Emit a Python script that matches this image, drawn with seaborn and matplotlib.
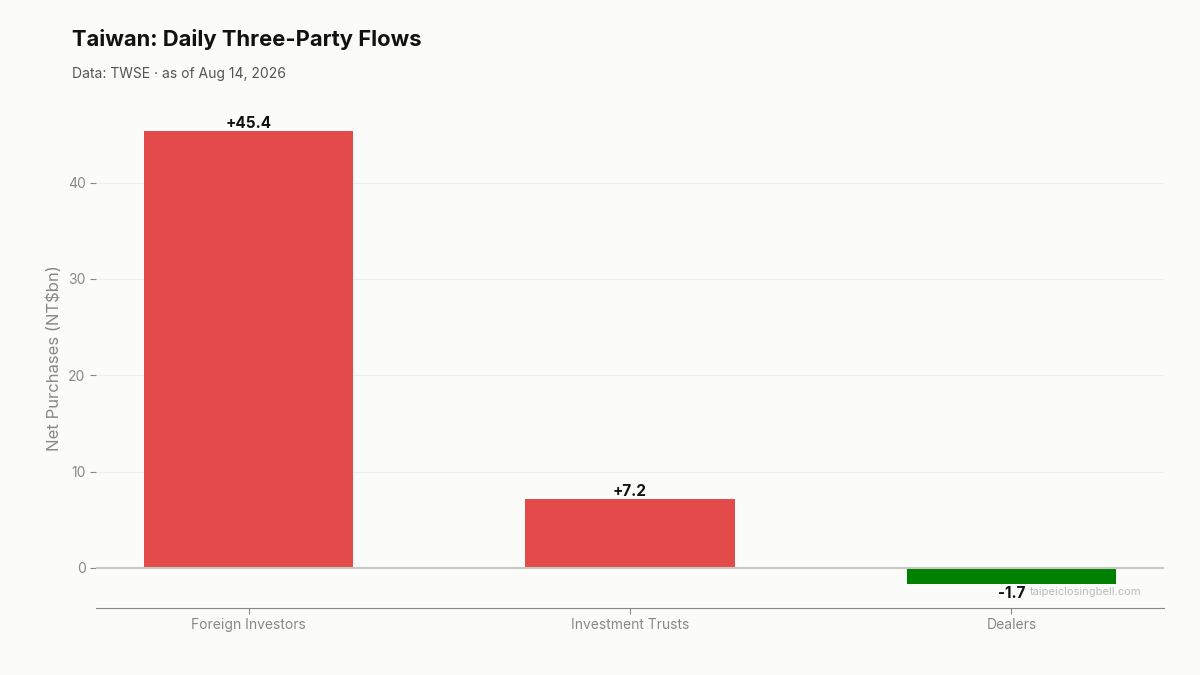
import pandas as pd
import matplotlib
matplotlib.use("Agg")
import matplotlib.pyplot as plt
import seaborn as sns

# Data
categories = ["Foreign Investors", "Investment Trusts", "Dealers"]
net_buy = [45.4, 7.2, -1.7]

df = pd.DataFrame({"investor": categories, "net": net_buy})
colors = ["#e34a4a" if v >= 0 else "#008000" for v in net_buy]

sns.set_style("white")
plt.rcParams["font.family"] = ["Inter", "DejaVu Sans"]

fig = plt.figure(figsize=(12, 6.75), dpi=100, facecolor="#fbfbf9")
ax = fig.add_axes([0.08, 0.0993, 0.89, 0.74])
ax.set_facecolor("#fbfbf9")

sns.barplot(data=df, x="investor", y="net", hue="investor", palette=colors,
            width=0.55, legend=False, ax=ax, saturation=1, linewidth=0)

# value labels
for i, v in enumerate(net_buy):
    txt = f"{v:+.1f}"
    if v >= 0:
        ax.text(i, v, txt, ha="center", va="bottom", fontsize=11,
                fontweight="bold", color="#111111")
    else:
        ax.text(i, v - 0.2, txt, ha="center", va="top", fontsize=11,
                fontweight="bold", color="#111111")

ax.axhline(0, color="#c8c8c2", lw=1.5, zorder=1)
ax.set_xlim(-0.4, 2.4)
ax.set_ylim(-4.15, 47.7)
ax.set_yticks([0, 10, 20, 30, 40])
ax.yaxis.grid(True, color="#eeeeea", lw=0.8)
ax.set_axisbelow(True)

for s in ["top", "right", "left"]:
    ax.spines[s].set_visible(False)
ax.spines["bottom"].set_color("#888888")
ax.tick_params(axis="both", colors="#888888", labelsize=10, length=4,
               labelcolor="#888888", width=0.8)
ax.tick_params(axis="y", left=True, length=4)
ax.tick_params(axis="x", bottom=True, length=4)
ax.set_xlabel("")
ax.set_ylabel("Net Purchases (NT$bn)", fontsize=12, color="#888888")

fig.text(0.06, 0.941, "Taiwan: Daily Three-Party Flows", fontsize=15.8,
         fontweight="bold", color="#111111", va="center")
fig.text(0.06, 0.89, "Data: TWSE \u00b7 as of Aug 14, 2026", fontsize=10,
         color="#555555", va="center")
fig.text(0.951, 0.123, "taipeiclosingbell.com", fontsize=8, color="#bbbbbb",
         ha="right", va="center")

fig.savefig("out.png", dpi=100, facecolor=fig.get_facecolor())
